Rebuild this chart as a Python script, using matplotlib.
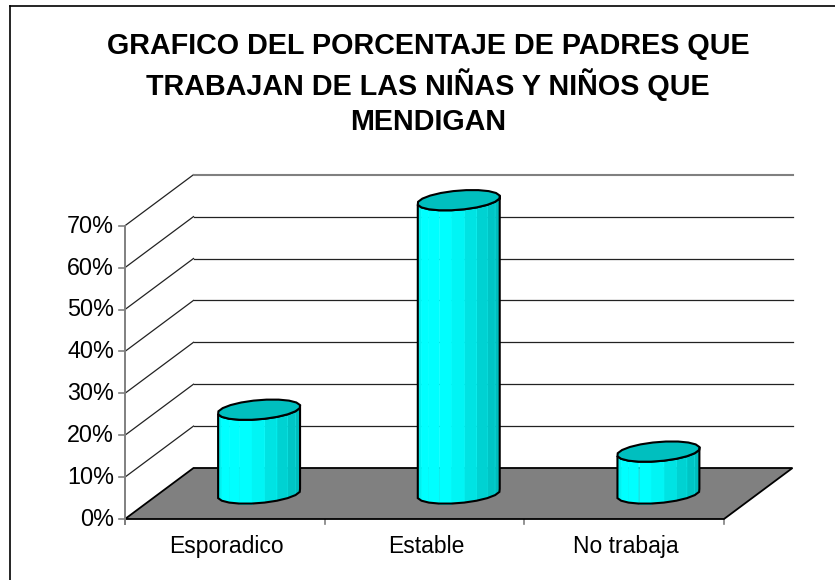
import numpy as np
import matplotlib
matplotlib.use("Agg")
import matplotlib.pyplot as plt
from matplotlib.patches import Polygon

categories = ["Esporadico", "Estable", "No trabaja"]
values = [20, 70, 10]
y_ticks = [0, 10, 20, 30, 40, 50, 60, 70]
title_lines = ["GRAFICO DEL PORCENTAJE DE PADRES QUE",
               "TRABAJAN DE LAS NIÑAS Y NIÑOS QUE",
               "MENDIGAN"]

plt.rcParams["font.family"] = ["Liberation Sans", "DejaVu Sans"]
W, H = 835, 580
fig = plt.figure(figsize=(W / 100, H / 100), dpi=100)
ax = fig.add_axes([0, 0, 1, 1])
ax.set_xlim(0, W)
ax.set_ylim(H, 0)
ax.axis("off")

X0, Y0, XW, YU, DX, DY = 125, 519, 599 / 3, 41.9 / 10, 68.5, 51


def proj(c, v, d=0.0):
    """category units, value in %, depth 0-1 -> pixels"""
    return X0 + c * XW + d * DX, Y0 - v * YU - d * DY


# chart border: runs off the right and bottom of the picture
ax.plot([10, 10], [H + 5, 6], color="black", lw=1.2, zorder=1)
ax.plot([10, W + 5], [6, 6], color="black", lw=1.2, zorder=1)

# walls and gridlines
for v in y_ticks:
    a, b, c = proj(0, v), proj(0, v, 1), proj(3, v, 1)
    if v > 0:
        back = "#808080" if v == y_ticks[-1] else "#222222"
        ax.plot([a[0], b[0]], [a[1], b[1]], color="#222222", lw=0.9, zorder=1)
        ax.plot([b[0], c[0]], [b[1], c[1]], color=back, lw=1.5 if v == y_ticks[-1] else 0.9, zorder=1)
    ax.plot([a[0] - 6, a[0]], [a[1], a[1]], color="#808080", lw=1.2, zorder=1)
    ax.text(a[0] - 11, a[1] + 0.5, f"{v}%", ha="right", va="center", fontsize=16.8, color="black")

# floor
floor = [proj(0, 0), proj(3, 0), proj(3, 0, 1), proj(0, 0, 1)]
ax.add_patch(Polygon(floor, closed=True, fc="#808080", ec="black", lw=1.3, zorder=2))
ax.plot([X0, X0], [proj(0, 70)[1], Y0 + 5], color="#808080", lw=1.4, zorder=3)
for i in range(4):
    x, y = proj(i, 0)
    ax.plot([x, x], [y, y + 5], color="#808080", lw=1.2, zorder=1)

# cylinders
A, B, N = 39 / XW, 0.2, 20
t = np.linspace(0, 2 * np.pi, N, endpoint=False) + np.pi / N


def ring(i, v):
    return np.array([proj(i + 0.5 + A * np.cos(a), v, 0.5 + B * np.sin(a)) for a in t])


def shade(f):
    if f < 0.08:
        g = 240
    elif f < 0.4:
        g = 255
    else:
        g = 255 - (f - 0.4) / 0.6 * 70
    return (0, g / 255, g / 255)


for i, v in enumerate(values):
    bot, top = ring(i, 0), ring(i, v)
    left = int(np.argmin(bot[:, 0]))
    right = int(np.argmax(bot[:, 0]))
    idx = [(left + k) % N for k in range(N)]
    front = []
    for k in idx:
        front.append(k)
        if k == right:
            break
    x0, x1 = bot[left, 0], bot[right, 0]
    for j, k in zip(front[:-1], front[1:]):
        f = (bot[j, 0] + bot[k, 0]) / 2
        f = (f - x0) / (x1 - x0)
        ax.add_patch(Polygon([bot[j], bot[k], top[k], top[j]], closed=True,
                             fc=shade(f), ec=shade(max(f - 0.25, 0.1)), lw=0.4, zorder=4))
    outline = np.vstack([bot[front], top[front[::-1]]])
    ax.add_patch(Polygon(outline, closed=True, fc="none", ec="black", lw=1.5, zorder=5))
    ax.add_patch(Polygon(top, closed=True, fc="#00BFBF", ec="black", lw=1.5, zorder=5))

for i, name in enumerate(categories):
    x, y = proj(i + 0.5, 0)
    ax.text(x + 1.5, y + 25, name, ha="center", va="center_baseline", fontsize=16.5, color="black")

for line, y in zip(title_lines, [43, 81.5, 119]):
    ax.text(428, y, line, ha="center", va="center_baseline", fontsize=20.7, fontweight="bold",
            color="black")

fig.savefig("out.png", dpi=100)
